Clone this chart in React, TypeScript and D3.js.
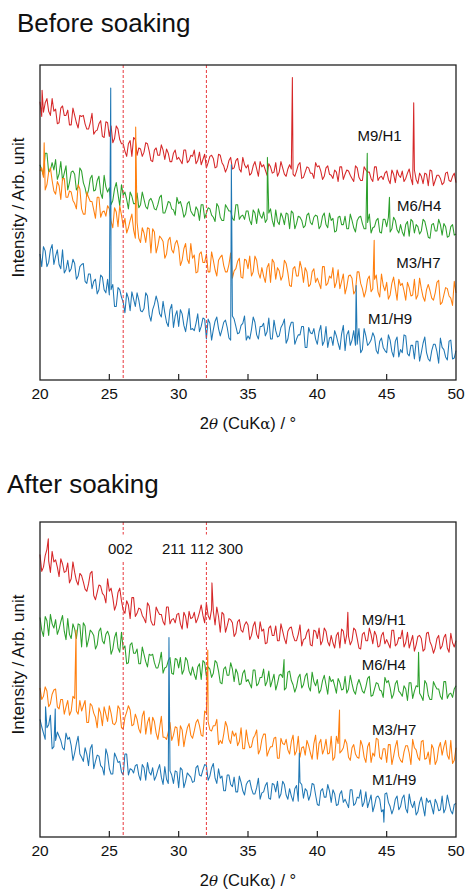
import React from 'react';
import * as d3 from 'd3';

// 2theta sampling: main grid 20..50 every 0.25 deg, mid grid offset by 0.125 deg
const twoTheta = d3.range(121).map(i => 20 + i * 0.25);
const twoThetaMid = d3.range(120).map(i => 20.125 + i * 0.25);
const xTicks = [20, 25, 30, 35, 40, 45, 50];
const refLines = [26, 32];
const sampleNames = ['M9/H1', 'M6/H4', 'M3/H7', 'M1/H9'];
const colors = ['#d62728', '#2ca02c', '#ff7f0e', '#1f77b4'];
const hklLabels = ['002', '211 112 300'];

// ---- Before soaking (arb. intensity, 0..300) ----
const beforeM9H1 = [
  265, 255, 268, 252, 256, 244, 259, 252, 257, 243, 252, 240, 251, 244, 239, 254, 237, 244, 232, 246,
  232, 226, 242, 229, 225, 213, 228, 231, 214, 220, 217, 225, 209, 219, 214, 224, 210, 216, 208, 219,
  212, 206, 219, 209, 213, 206, 217, 210, 202, 213, 211, 203, 214, 204, 202, 212, 202, 211, 198, 205,
  205, 197, 208, 194, 203, 200, 206, 197, 207, 198, 202, 194, 205, 196, 199, 207, 193, 203, 197, 192,
  203, 199, 194, 204, 195, 200, 189, 203, 196, 199, 192, 204, 193, 190, 200, 198, 189, 203, 193, 191,
  199, 187, 196, 200, 193, 189, 197, 192, 200, 187, 194, 197, 185, 199, 190, 195, 186, 197, 190, 194,
  188,
];
const beforeM9H1Mid = [
  251, 264, 256, 268, 258, 245, 261, 252, 243, 259, 245, 252, 252, 239, 245, 234, 238, 247, 231, 245,
  242, 230, 239, 225, 218, 225, 213, 229, 221, 213, 226, 218, 208, 221, 214, 219, 220, 208, 216, 210,
  209, 219, 207, 214, 219, 209, 205, 215, 207, 214, 202, 215, 207, 198, 209, 201, 209, 201, 212, 202,
  195, 204, 201, 208, 205, 195, 203, 198, 194, 208, 196, 201, 201, 194, 205, 192, 198, 202, 197, 207,
  204, 191, 202, 196, 192, 198, 203, 191, 200, 195, 189, 202, 190, 203, 198, 192, 203, 190, 194, 197,
  191, 200, 188, 195, 199, 192, 201, 186, 191, 197, 187, 196, 200, 185, 195, 192, 188, 198, 189, 197,
];
const beforeM6H4 = [
  205, 195, 216, 200, 200, 191, 208, 197, 181, 198, 196, 184, 199, 183, 181, 195, 181, 194, 173, 184,
  183, 171, 188, 166, 176, 172, 179, 168, 178, 167, 172, 163, 173, 163, 167, 176, 159, 170, 163, 157,
  168, 164, 158, 170, 158, 165, 152, 167, 159, 163, 155, 168, 155, 152, 164, 161, 152, 167, 156, 153,
  161, 148, 159, 163, 154, 150, 159, 152, 162, 148, 155, 159, 144, 159, 149, 155, 145, 157, 150, 155,
  156, 147, 159, 145, 152, 141, 155, 148, 156, 144, 152, 141, 155, 149, 144, 158, 145, 152, 141, 153,
  146, 141, 155, 143, 148, 137, 151, 153, 140, 146, 142, 151, 136, 148, 142, 153, 138, 146, 137, 148,
  139,
];
const beforeM6H4Mid = [
  200, 216, 198, 207, 210, 196, 190, 204, 188, 199, 181, 202, 188, 175, 192, 180, 190, 178, 195, 179,
  167, 182, 177, 186, 179, 163, 175, 168, 164, 179, 165, 171, 169, 162, 174, 159, 164, 169, 162, 174,
  170, 155, 168, 161, 156, 162, 167, 154, 164, 157, 151, 165, 152, 167, 161, 154, 167, 153, 157, 161,
  152, 162, 149, 157, 160, 153, 163, 146, 151, 159, 148, 158, 161, 144, 156, 152, 147, 159, 148, 157,
  144, 156, 148, 159, 154, 142, 156, 148, 144, 158, 145, 152, 156, 144, 150, 140, 146, 154, 140, 153,
  155, 144, 152, 140, 141, 148, 137, 151, 148, 139, 153, 144, 135, 149, 142, 148, 149, 136, 146, 138,
];
const beforeM3H7 = [
  199, 193, 186, 202, 180, 189, 172, 192, 174, 179, 168, 186, 163, 158, 174, 170, 154, 174, 160, 156,
  163, 145, 160, 166, 146, 140, 152, 143, 150, 131, 140, 145, 121, 141, 128, 135, 116, 133, 124, 130,
  126, 114, 130, 111, 116, 102, 120, 112, 120, 103, 114, 99, 117, 109, 103, 121, 104, 113, 98, 115,
  106, 99, 118, 102, 107, 93, 111, 115, 96, 104, 99, 111, 90, 106, 99, 113, 93, 103, 91, 106,
  97, 87, 108, 92, 97, 88, 105, 94, 82, 99, 97, 85, 103, 87, 85, 99, 87, 100, 79, 90,
  93, 81, 98, 76, 90, 85, 93, 80, 96, 81, 87, 75, 91, 78, 83, 95, 74, 88, 80, 71,
  83,
];
const beforeM3H7Mid = [
  202, 181, 198, 190, 177, 185, 192, 174, 180, 171, 163, 182, 158, 179, 170, 162, 174, 155, 161, 166,
  151, 164, 146, 157, 154, 145, 158, 135, 135, 145, 131, 144, 144, 121, 137, 132, 120, 136, 121, 133,
  109, 125, 115, 130, 119, 103, 122, 112, 103, 122, 105, 114, 119, 103, 110, 97, 106, 116, 97, 114,
  118, 103, 114, 97, 99, 107, 93, 112, 107, 95, 114, 102, 89, 108, 99, 106, 107, 89, 103, 93,
  92, 108, 90, 99, 107, 93, 87, 101, 89, 100, 82, 103, 92, 79, 96, 84, 96, 84, 101, 85,
  77, 92, 87, 96, 92, 76, 88, 81, 77, 97, 79, 86, 85, 76, 93, 72, 81, 87, 78, 94,
];
const beforeM1H9 = [
  120, 127, 108, 124, 110, 124, 106, 102, 114, 106, 111, 99, 110, 94, 101, 87, 96, 86, 98, 83,
  81, 91, 70, 86, 74, 83, 66, 77, 83, 66, 68, 80, 56, 72, 74, 60, 64, 51, 72, 61,
  51, 63, 46, 68, 49, 54, 46, 59, 39, 54, 48, 60, 42, 55, 50, 38, 58, 44, 52, 61,
  42, 48, 55, 39, 51, 42, 59, 39, 47, 42, 53, 35, 50, 55, 39, 43, 51, 31, 45, 49,
  34, 52, 37, 31, 41, 47, 35, 44, 28, 47, 38, 33, 49, 29, 42, 35, 45, 28, 37, 31,
  26, 38, 22, 41, 29, 43, 25, 33, 20, 37, 26, 41, 20, 28, 34, 16, 31, 22, 37, 20,
  28,
];
const beforeM1H9Mid = [
  108, 123, 112, 129, 118, 110, 124, 105, 103, 115, 96, 108, 111, 92, 101, 94, 82, 100, 86, 96,
  86, 70, 88, 79, 64, 78, 84, 70, 76, 65, 83, 62, 67, 80, 63, 75, 55, 67, 50, 66,
  67, 52, 57, 48, 47, 63, 51, 58, 58, 38, 56, 49, 48, 57, 40, 61, 51, 45, 54, 38,
  39, 60, 43, 51, 54, 46, 39, 57, 41, 50, 58, 39, 55, 34, 43, 51, 31, 50, 44, 39,
  46, 33, 51, 40, 33, 42, 29, 52, 43, 33, 47, 34, 26, 49, 33, 38, 41, 25, 40, 28,
  43, 27, 37, 22, 26, 42, 23, 33, 37, 18, 35, 26, 18, 34, 27, 40, 29, 19, 38, 21,
];
// sharp reflections: [2theta, intensity]
const beforePeaksM9H1 = [[20.15, 276], [38.2, 288], [46.95, 264]];
const beforePeaksM6H4 = [[36.4, 212], [43.6, 216], [45.2, 174]];
const beforePeaksM3H7 = [[20.3, 226], [26.9, 241], [44.1, 133]];
const beforePeaksM1H9 = [[25.1, 278], [33.8, 205], [42.8, 90]];

// ---- After soaking ----
const afterM9H1 = [
  269, 257, 274, 252, 262, 257, 265, 252, 261, 246, 252, 240, 249, 236, 241, 253, 226, 240, 232, 223,
  234, 228, 221, 237, 216, 225, 208, 228, 213, 217, 208, 223, 206, 202, 215, 212, 202, 219, 207, 204,
  213, 198, 210, 215, 209, 204, 214, 211, 223, 207, 215, 219, 195, 212, 201, 207, 191, 205, 197, 202,
  202, 192, 205, 189, 196, 184, 199, 192, 201, 187, 196, 184, 199, 192, 187, 202, 188, 195, 183, 197,
  189, 183, 199, 186, 192, 180, 195, 198, 184, 191, 187, 197, 180, 193, 187, 199, 184, 192, 182, 195,
  188, 180, 197, 184, 189, 181, 195, 186, 177, 191, 189, 179, 195, 182, 180, 192, 182, 193, 176, 185,
  187,
];
const afterM9H1Mid = [
  253, 268, 263, 272, 264, 248, 260, 253, 242, 262, 244, 251, 243, 234, 251, 230, 233, 239, 230, 246,
  237, 216, 233, 225, 213, 221, 228, 210, 218, 211, 204, 220, 202, 219, 212, 205, 219, 203, 208, 212,
  203, 214, 199, 208, 214, 208, 221, 204, 211, 217, 202, 210, 214, 195, 208, 204, 194, 207, 195, 205,
  188, 201, 193, 205, 198, 185, 201, 192, 187, 203, 189, 196, 200, 187, 193, 182, 189, 198, 182, 196,
  199, 187, 196, 182, 185, 192, 180, 196, 193, 183, 199, 189, 179, 195, 187, 193, 196, 181, 192, 184,
  184, 197, 182, 190, 197, 185, 180, 192, 183, 192, 177, 194, 186, 175, 189, 179, 190, 180, 194, 181,
];
const afterM6H4 = [
  209, 191, 206, 212, 199, 193, 205, 196, 208, 189, 198, 203, 181, 201, 188, 195, 179, 196, 187, 193,
  191, 179, 195, 176, 179, 165, 183, 175, 179, 165, 174, 162, 173, 166, 161, 176, 161, 168, 156, 170,
  161, 155, 171, 158, 162, 150, 165, 168, 153, 160, 156, 166, 147, 160, 154, 166, 148, 156, 146, 159,
  150, 142, 159, 146, 152, 144, 158, 149, 140, 154, 152, 142, 158, 145, 143, 155, 145, 156, 139, 148,
  150, 140, 154, 136, 148, 144, 151, 140, 153, 141, 146, 136, 150, 139, 143, 153, 135, 147, 140, 133,
  147, 142, 136, 149, 137, 144, 130, 147, 139, 143, 134, 149, 135, 131, 144, 141, 131, 148, 136, 133,
  144,
];
const afterM6H4Mid = [
  197, 210, 192, 203, 207, 198, 211, 188, 193, 203, 189, 202, 204, 181, 197, 192, 183, 199, 184, 196,
  174, 190, 180, 195, 182, 166, 185, 175, 165, 181, 167, 174, 174, 161, 167, 156, 162, 171, 155, 169,
  171, 159, 168, 154, 155, 162, 150, 166, 162, 152, 168, 158, 146, 162, 154, 160, 160, 145, 156, 148,
  146, 159, 144, 152, 160, 148, 143, 155, 146, 155, 140, 157, 149, 138, 152, 142, 153, 143, 157, 144,
  137, 149, 145, 153, 150, 137, 147, 141, 137, 154, 139, 145, 145, 137, 151, 134, 141, 146, 139, 152,
  149, 132, 146, 139, 134, 141, 147, 132, 144, 137, 130, 146, 131, 148, 141, 134, 148, 132, 137, 141,
];
const afterM3H7 = [
  142, 134, 139, 127, 140, 124, 131, 117, 130, 120, 132, 117, 120, 130, 109, 125, 114, 123, 106, 117,
  125, 108, 110, 122, 103, 119, 121, 107, 112, 99, 120, 109, 98, 110, 93, 115, 95, 100, 92, 105,
  87, 102, 96, 108, 94, 109, 106, 96, 118, 102, 106, 112, 92, 98, 105, 89, 96, 87, 104, 84,
  91, 86, 97, 79, 93, 98, 82, 86, 95, 75, 89, 93, 79, 97, 82, 76, 86, 92, 80, 89,
  74, 93, 84, 79, 96, 76, 89, 82, 93, 76, 85, 79, 75, 87, 71, 90, 80, 94, 76, 84,
  71, 88, 77, 92, 73, 81, 87, 69, 85, 76, 91, 74, 81, 88, 69, 85, 78, 92, 74, 70,
  85,
];
const afterM3H7Mid = [
  131, 143, 124, 136, 141, 122, 131, 124, 116, 134, 120, 130, 125, 109, 127, 118, 104, 118, 124, 110,
  118, 107, 125, 104, 114, 125, 106, 117, 103, 115, 98, 114, 114, 99, 104, 95, 93, 109, 97, 104,
  106, 86, 104, 97, 101, 112, 97, 120, 110, 101, 106, 88, 89, 110, 93, 101, 99, 91, 84, 102,
  85, 94, 102, 83, 98, 77, 86, 94, 75, 94, 88, 83, 91, 78, 96, 85, 78, 87, 74, 97,
  89, 79, 93, 80, 73, 96, 80, 85, 89, 73, 88, 76, 92, 76, 86, 71, 77, 93, 74, 84,
  88, 69, 86, 77, 71, 87, 80, 93, 83, 73, 92, 75, 69, 84, 73, 90, 86, 78, 92, 73,
];
const afterM1H9 = [
  112, 99, 104, 116, 86, 100, 92, 83, 93, 87, 80, 96, 76, 85, 68, 88, 72, 77, 66, 84,
  65, 60, 76, 72, 59, 79, 65, 61, 69, 54, 66, 71, 59, 54, 64, 57, 67, 51, 59, 63,
  47, 64, 53, 59, 52, 66, 59, 64, 68, 58, 70, 51, 56, 44, 59, 50, 57, 43, 52, 40,
  53, 46, 41, 56, 42, 49, 37, 51, 43, 37, 53, 40, 46, 34, 49, 52, 37, 44, 40, 50,
  31, 44, 38, 50, 33, 41, 31, 44, 36, 28, 45, 32, 37, 29, 43, 34, 24, 38, 36, 26,
  42, 29, 27, 39, 29, 40, 23, 32, 34, 24, 38, 20, 33, 29, 36, 25, 39, 27, 32, 22,
  32,
];
const afterM1H9Mid = [
  105, 93, 107, 84, 92, 96, 85, 99, 95, 73, 89, 79, 72, 79, 84, 65, 78, 68, 59, 78,
  60, 80, 71, 62, 79, 59, 64, 68, 59, 69, 54, 62, 66, 58, 69, 50, 55, 63, 51, 62,
  66, 47, 61, 57, 53, 68, 58, 69, 54, 66, 56, 65, 58, 44, 59, 48, 43, 58, 44, 50,
  54, 41, 47, 36, 43, 52, 36, 50, 53, 41, 50, 36, 39, 46, 34, 50, 46, 35, 51, 40,
  30, 46, 38, 44, 45, 30, 41, 33, 32, 45, 30, 38, 45, 33, 28, 40, 30, 39, 24, 41,
  33, 22, 36, 26, 37, 27, 41, 28, 21, 33, 29, 37, 35, 22, 32, 26, 23, 40, 25, 31,
];
const afterPeaksM9H1 = [[20.6, 284], [32.4, 242], [42.2, 214]];
const afterPeaksM6H4 = [[37.6, 169], [47.3, 176]];
const afterPeaksM3H7 = [[22.6, 197], [32.1, 178], [41.6, 121]];
const afterPeaksM1H9 = [[20.4, 124], [21.1, 122], [29.3, 190], [38.7, 80], [44.8, 14]];

const font = '"Liberation Sans", Arial, Helvetica, sans-serif';
const plotLeft = 40;
const plotRight = 456;

const panels = [
  {
    title: 'Before soaking', titleX: 17, titleY: 31.5, top: 65, bottom: 380,
    series: [beforeM9H1, beforeM6H4, beforeM3H7, beforeM1H9],
    mids: [beforeM9H1Mid, beforeM6H4Mid, beforeM3H7Mid, beforeM1H9Mid],
    peaks: [beforePeaksM9H1, beforePeaksM6H4, beforePeaksM3H7, beforePeaksM1H9],
    labelAt: [[42.9, 228], [45.75, 161], [45.7, 107], [43.65, 53]],
    hkl: null,
  },
  {
    title: 'After soaking', titleX: 7, titleY: 493, top: 522, bottom: 837,
    series: [afterM9H1, afterM6H4, afterM3H7, afterM1H9],
    mids: [afterM9H1Mid, afterM6H4Mid, afterM3H7Mid, afterM1H9Mid],
    peaks: [afterPeaksM9H1, afterPeaksM6H4, afterPeaksM3H7, afterPeaksM1H9],
    labelAt: [[43.2, 202], [43.2, 159], [43.95, 97], [43.95, 50]],
    hkl: [[24.9, 270, 26], [28.8, 270, 86]],
  },
];

function Panel({ cfg }: { cfg: any }) {
  const x = d3.scaleLinear().domain([20, 50]).range([plotLeft, plotRight]);
  const y = d3.scaleLinear().domain([0, 300]).range([cfg.bottom, cfg.top]);
  const line = d3.line<number[]>().x(d => x(d[0])).y(d => y(d[1]));

  return (
    <g fontFamily={font}>
      <text x={cfg.titleX} y={cfg.titleY} fontSize={26} fill="#111">{cfg.title}</text>

      {cfg.series.map((vals: number[], i: number) => {
        const pts = twoTheta.map((t, j) => [t, vals[j]])
          .concat(twoThetaMid.map((t, j) => [t, cfg.mids[i][j]]))
          .concat(cfg.peaks[i]);
        pts.sort((a, b) => a[0] - b[0]);
        return (
          <path key={i} d={line(pts) || ''} fill="none" stroke={colors[i]}
            strokeWidth={1.05} strokeLinejoin="round" />
        );
      })}

      {refLines.map(t => (
        <line key={t} x1={x(t)} x2={x(t)} y1={cfg.top} y2={cfg.bottom}
          stroke="#e8383d" strokeWidth={1} strokeDasharray="3,2" />
      ))}

      <rect x={plotLeft} y={cfg.top} width={plotRight - plotLeft} height={cfg.bottom - cfg.top}
        fill="none" stroke="#222" strokeWidth={1.3} />

      {xTicks.slice(1, -1).map(t => (
        <line key={t} x1={x(t)} x2={x(t)} y1={cfg.bottom} y2={cfg.bottom - 6}
          stroke="#222" strokeWidth={1.2} />
      ))}
      {xTicks.map(t => (
        <text key={t} x={x(t)} y={cfg.bottom + 18.5} fontSize={15.5} textAnchor="middle" fill="#111">{t}</text>
      ))}

      <text x={(plotLeft + plotRight) / 2} y={cfg.bottom + 49} fontSize={16.5} textAnchor="middle" fill="#111">
        <tspan>2</tspan><tspan fontStyle="italic" fontFamily='"DejaVu Serif", serif' fontSize={15}>θ</tspan>
        <tspan> (CuK</tspan><tspan fontFamily='"DejaVu Serif", serif' fontSize={15}>α</tspan><tspan>) / °</tspan>
      </text>

      <text transform={`translate(23.5, ${(cfg.top + cfg.bottom) / 2 - 15}) rotate(-90)`}
        fontSize={17} textAnchor="middle" fill="#111">Intensity / Arb. unit</text>

      {sampleNames.map((n, i) => (
        <text key={n} x={x(cfg.labelAt[i][0])} y={y(cfg.labelAt[i][1])} fontSize={15} fill="#111">{n}</text>
      ))}

      {cfg.hkl && hklLabels.map((h, i) => (
        <g key={h}>
          <rect x={x(cfg.hkl[i][0]) - 1} y={y(cfg.hkl[i][1]) - 19} width={cfg.hkl[i][2]} height={27} fill="#fff" />
          <text x={x(cfg.hkl[i][0])} y={y(cfg.hkl[i][1])} fontSize={15} fill="#111">{h}</text>
        </g>
      ))}
    </g>
  );
}

export default function App() {
  return (
    <svg width={465} height={890} style={{ position: 'absolute', left: 0, top: 0, background: '#fff' }}>
      <rect width={465} height={890} fill="#fff" />
      {panels.map((p, i) => <Panel key={i} cfg={p} />)}
    </svg>
  );
}
